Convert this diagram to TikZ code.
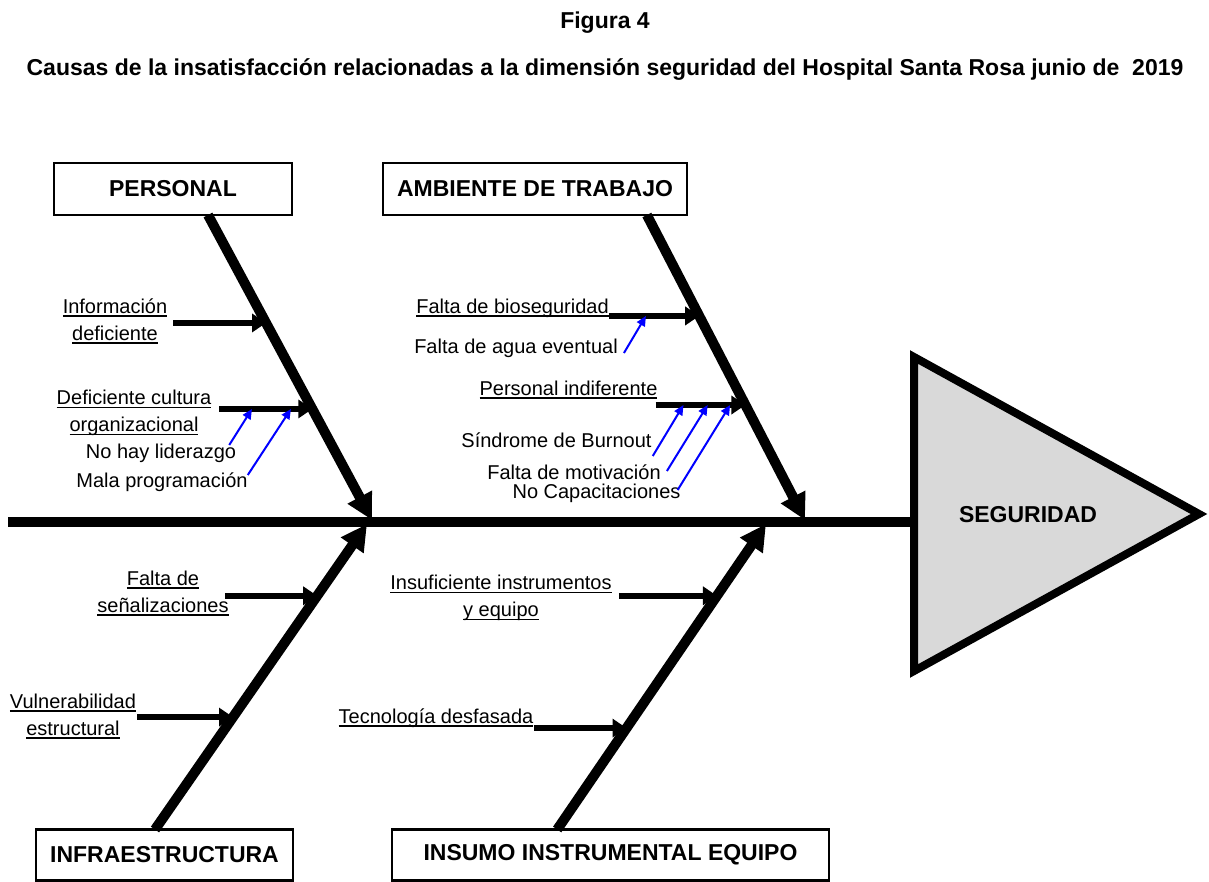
\documentclass[tikz,border=0pt]{standalone}
\usepackage{fontspec}
\setmainfont{Liberation Sans}
\usetikzlibrary{arrows.meta,calc}
\newcommand{\subrayar}[1]{\setbox0\hbox{#1}\rlap{\rule[-3.5pt]{\wd0}{1.5pt}}\box0}

\begin{document}
\begin{tikzpicture}[x=1pt, y=-1pt, line join=miter,
  hueso/.style={line width=10pt, -{Triangle[length=26pt,width=26pt]}},
  causa/.style={line width=6pt, -{Triangle[length=14pt,width=18pt]}},
  subcausa/.style={blue, line width=2pt, -{Triangle[length=10pt,width=9pt]}},
  caja/.style={draw, line width=2.5pt, inner sep=0pt, outer sep=0pt, font=\fontsize{23}{27}\selectfont\bfseries},
  texto/.style={inner sep=0pt, align=center, font=\fontsize{20}{27}\selectfont}]
\useasboundingbox (0,0) rectangle (1209,882);
% ==========================================
\node[font=\fontsize{23}{27}\selectfont\bfseries, anchor=base] (fig) at (605,29) {Figura 4};
\node[font=\fontsize{23}{27}\selectfont\bfseries, anchor=base] (titulo) at (605,76) {Causas de la insatisfacción relacionadas a la dimensión seguridad del Hospital Santa Rosa junio de~ 2019};
% espina y efecto
\coordinate (cola) at (8,522);
\coordinate (cabeza) at (914,522);
\draw[line width=10pt] (cola) -- (cabeza);
\draw[line width=8pt, fill=black!15] (914,357) -- (1199,514) -- (914,671) -- cycle;
\node[caja, draw=none] (efecto) at (1028,515) {SEGURIDAD};
% ==========================================
% categorias
\node[caja, minimum width=238pt, minimum height=52pt] (personal) at (173,189) {PERSONAL};
\node[caja, minimum width=304pt, minimum height=52pt] (ambiente) at (535,189) {AMBIENTE DE TRABAJO};
\node[caja, minimum width=257pt, minimum height=51pt] (infra) at (164.5,855) {INFRAESTRUCTURA};
\node[caja, minimum width=437pt, minimum height=51pt] (insumo) at (610.5,855) {INSUMO INSTRUMENTAL EQUIPO};
% huesos
\coordinate (perA) at ($(personal.south west)!0.647!(personal.south east)$);
\coordinate (perB) at (372,520);
\coordinate (ambA) at ($(ambiente.south west)!0.868!(ambiente.south east)$);
\coordinate (ambB) at (805,520);
\coordinate (infA) at ($(infra.north west)!0.463!(infra.north east)$);
\coordinate (infB) at (367,524);
\coordinate (insA) at ($(insumo.north west)!0.378!(insumo.north east)$);
\coordinate (insB) at (766,524);
\draw[hueso] (perA) -- (perB);
\draw[hueso] (ambA) -- (ambB);
\draw[hueso] (infA) -- (infB);
\draw[hueso] (insA) -- (insB);
% ==========================================
% PERSONAL
\node[texto] (infdef) at (115,321) {\subrayar{Información}\\\subrayar{deficiente}};
\node[texto] (cultura) at (134,413) {\subrayar{Deficiente cultura}\\\subrayar{organizacional}};
\node[texto] (lider) at (161,453) {No hay liderazgo};
\node[texto] (progra) at (162,482) {Mala programación};
\coordinate (infdefP) at ($(perA)!0.354!(perB)$);
\coordinate (culturaP) at ($(perA)!0.636!(perB)$);
\coordinate (infdefS) at ($(infdef.east |- infdefP)+(6,0)$);
\coordinate (culturaS) at ($(cultura.east |- culturaP)+(8,0)$);
\draw[causa] (infdefS) -- (infdefP);
\draw[causa] (culturaS) -- (culturaP);
\draw[subcausa] ($(lider.east)+(-7,-8)$) -- ($(culturaS)!0.35!(culturaP)$);
\draw[subcausa] ($(progra.east)+(0,-7)$) -- ($(culturaS)!0.77!(culturaP)$);
% AMBIENTE DE TRABAJO
\node[texto] (biose) at (512.5,308) {\subrayar{Falta de bioseguridad}};
\node[texto] (agua) at (516,348) {Falta de agua eventual};
\node[texto] (indif) at (568.5,390) {\subrayar{Personal indiferente}};
\node[texto] (burnout) at (556.5,440) {Síndrome de Burnout};
\node[texto] (motiva) at (574,472) {Falta de motivación};
\node[texto] (capac) at (596.5,493) {No Capacitaciones};
\coordinate (bioseP) at ($(ambA)!0.331!(ambB)$);
\coordinate (indifP) at ($(ambA)!0.623!(ambB)$);
\coordinate (bioseS) at (biose.east |- bioseP);
\coordinate (indifS) at ($(indif.east |- indifP)+(-2,0)$);
\draw[causa] (bioseS) -- (bioseP);
\draw[causa] (indifS) -- (indifP);
\draw[subcausa] ($(agua.east)+(6,5)$) -- ($(bioseS)!0.41!(bioseP)$);
\draw[subcausa] ($(burnout.east)+(1,16)$) -- ($(indifS)!0.31!(indifP)$);
\draw[subcausa] ($(motiva.east)+(6,-1)$) -- ($(indifS)!0.58!(indifP)$);
\draw[subcausa] ($(capac.east)+(-3,-3)$) -- ($(indifS)!0.83!(indifP)$);
% INFRAESTRUCTURA
\node[texto] (senal) at (163,593) {\subrayar{Falta de}\\\subrayar{señalizaciones}};
\node[texto] (vulne) at (73,716) {\subrayar{Vulnerabilidad}\\\subrayar{estructural}};
\coordinate (senalP) at ($(infA)!0.765!(infB)$);
\coordinate (vulneP) at ($(infA)!0.368!(infB)$);
\draw[causa] ($(senal.east |- senalP)+(-4,0)$) -- (senalP);
\draw[causa] ($(vulne.east |- vulneP)+(1,0)$) -- (vulneP);
% INSUMO INSTRUMENTAL EQUIPO
\node[texto] (instru) at (501,598) {\subrayar{Insuficiente instrumentos}\\\subrayar{y equipo}};
\node[texto] (tecno) at (436,718) {\subrayar{Tecnología desfasada}};
\coordinate (instruP) at ($(insA)!0.765!(insB)$);
\coordinate (tecnoP) at ($(insA)!0.332!(insB)$);
\draw[causa] ($(instru.east |- instruP)+(7,0)$) -- (instruP);
\draw[causa] (tecno.east |- tecnoP) -- (tecnoP);
\end{tikzpicture}
\end{document}
